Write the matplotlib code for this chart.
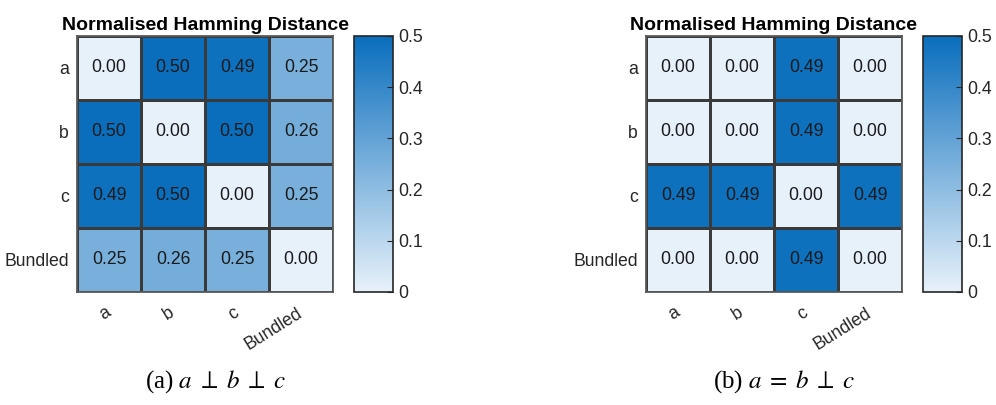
import numpy as np
import matplotlib
matplotlib.use("Agg")
import matplotlib.pyplot as plt
from matplotlib.colors import LinearSegmentedColormap
from matplotlib.transforms import ScaledTranslation

plt.rcParams['font.family'] = ['Liberation Sans', 'DejaVu Sans']
plt.rcParams['mathtext.fontset'] = 'stix'

labels = ['a', 'b', 'c', 'Bundled']
dist_a = np.array([
    [0.00, 0.50, 0.49, 0.25],
    [0.50, 0.00, 0.50, 0.26],
    [0.49, 0.50, 0.00, 0.25],
    [0.25, 0.26, 0.25, 0.00],
])
dist_b = np.array([
    [0.00, 0.00, 0.49, 0.00],
    [0.00, 0.00, 0.49, 0.00],
    [0.49, 0.49, 0.00, 0.49],
    [0.00, 0.00, 0.49, 0.00],
])
captions = [r'(a) $a\;\perp\;b\;\perp\;c$', r'(b) $a\;=\;b\;\perp\;c$']
cbar_ticks = [0, 0.1, 0.2, 0.3, 0.4, 0.5]

cmap = LinearSegmentedColormap.from_list('blues', ['#e7f1fa', '#0a6ebd'])

W, H = 996, 405
fig = plt.figure(figsize=(W / 100, H / 100), dpi=100)


def px(x0, y_top, w, h):
    return [x0 / W, (H - y_top - h) / H, w / W, h / H]


def heatmap(data, x0, cx0, caption, cap_x):
    ax = fig.add_axes(px(x0, 36, 256, 256))
    n = len(labels)
    mesh = ax.pcolormesh(np.arange(n + 1), np.arange(n + 1), data, cmap=cmap,
                         vmin=0, vmax=0.5, edgecolors='#3a3a3a', linewidth=0.75)
    ax.set_xlim(0, n)
    ax.set_ylim(n, 0)
    for i in range(n):
        for j in range(n):
            ax.text(j + 0.5, i + 0.5, f'{data[i, j]:.2f}', ha='center', va='center',
                    fontsize=12.7, color='#1a1a1a')
    ax.set_xticks(np.arange(n) + 0.5)
    ax.set_yticks(np.arange(n) + 0.5)
    ax.set_xticklabels(labels, rotation=32, ha='right', va='center',
                       rotation_mode='anchor', fontsize=12.7, color='#262626')
    shift = ScaledTranslation(5 / 100, 0, fig.dpi_scale_trans)
    for lab in ax.get_xticklabels():
        lab.set_transform(lab.get_transform() + shift)
    ax.set_yticklabels(labels, fontsize=12.7, color='#262626')
    ax.tick_params(axis='x', length=0, pad=14)
    ax.tick_params(axis='y', length=0, pad=6)
    for s in ax.spines.values():
        s.set_color('#5a5a5a')
        s.set_linewidth(1.3)
    ax.set_title('Normalised Hamming Distance', fontsize=14, fontweight='bold', pad=4)

    cax = fig.add_axes(px(cx0, 36, 39, 256))
    cb = fig.colorbar(mesh, cax=cax)
    cb.set_ticks(cbar_ticks)
    cb.set_ticklabels(['0' if t == 0 else f'{t:.1f}' for t in cbar_ticks])
    cax.tick_params(direction='in', length=4, width=0.8, pad=4, labelsize=12.7,
                    colors='#262626')
    cb.outline.set_edgecolor('#262626')
    cb.outline.set_linewidth(1.2)

    fig.text(cap_x / W, (H - 382) / H, caption, ha='center', va='center',
             fontsize=18, family=['Liberation Serif', 'DejaVu Serif'])


heatmap(dist_a, 77, 354, captions[0], 215)
heatmap(dist_b, 646, 923, captions[1], 784)

fig.savefig('out.png', dpi=100)
